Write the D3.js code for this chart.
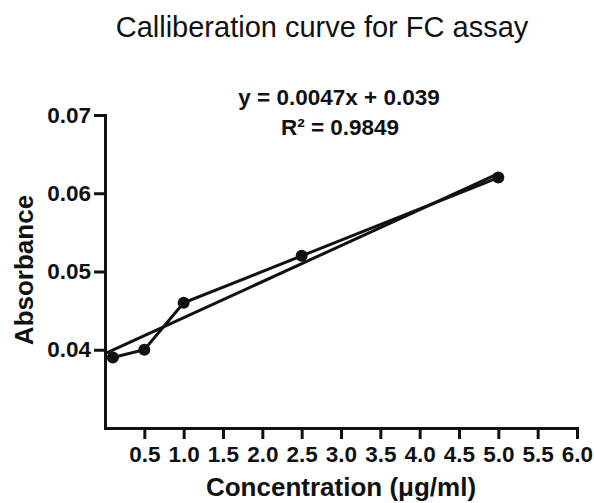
<!DOCTYPE html>
<html>
<head>
<meta charset="utf-8">
<script src="https://cdn.jsdelivr.net/npm/d3@7"></script>
<style>
  body { margin: 0; background: #fff; }
  text { font-family: "Liberation Sans", Arial, sans-serif; fill: #111; }
</style>
</head>
<body>
<div id="chart"></div>
<script>
// data
const concentration = [0.1, 0.5, 1.0, 2.5, 5.0];
const absorbance = [0.039, 0.040, 0.046, 0.052, 0.062];
// trendline end points (as drawn)
const trendX = [0, 5.0];
const trendY = [0.0395, 0.0625];
const xTicks = [0.5, 1.0, 1.5, 2.0, 2.5, 3.0, 3.5, 4.0, 4.5, 5.0, 5.5, 6.0];
const yTicks = [0.04, 0.05, 0.06, 0.07];

const width = 594, height = 503;
const margin = {top: 115, bottom: 75, left: 105, right: 17};

const svg = d3.select("#chart")
  .append("svg")
  .attr("width", width)
  .attr("height", height);

const xScale = d3.scaleLinear()
  .domain([0, 6])
  .range([margin.left, width - margin.right]);

const yScale = d3.scaleLinear()
  .domain([0.03, 0.07])
  .range([height - margin.bottom, margin.top]);

// x axis
const xAxis = svg.append("g")
  .attr("transform", "translate(0," + yScale(0.03) + ")")
  .call(d3.axisBottom(xScale).tickValues(xTicks).tickFormat(d3.format(".1f"))
    .tickSize(11).tickPadding(7).tickSizeOuter(0));

// y axis
const yAxis = svg.append("g")
  .attr("transform", "translate(" + xScale(0) + ",0)")
  .call(d3.axisLeft(yScale).tickValues(yTicks).tickFormat(d3.format(".2f"))
    .tickSize(11).tickPadding(3).tickSizeOuter(0));

[xAxis, yAxis].forEach(ax => {
  ax.select(".domain").attr("stroke", "#111").attr("stroke-width", 3)
    .attr("stroke-linecap", "square");
  ax.selectAll(".tick line").attr("stroke", "#111").attr("stroke-width", 3);
  ax.selectAll(".tick text")
    .attr("fill", "#111")
    .style("font-family", "'Liberation Sans', Arial, sans-serif")
    .style("font-size", "22.5px")
    .style("font-weight", "bold");
});

// trend line
svg.append("path")
  .datum(trendX.map((x, i) => [x, trendY[i]]))
  .attr("fill", "none")
  .attr("stroke", "#111")
  .attr("stroke-width", 3)
  .attr("d", d3.line().x(d => xScale(d[0])).y(d => yScale(d[1])));

// data line
const pts = concentration.map((c, i) => [c, absorbance[i]]);
svg.append("path")
  .datum(pts)
  .attr("fill", "none")
  .attr("stroke", "#111")
  .attr("stroke-width", 3)
  .attr("d", d3.line().x(d => xScale(d[0])).y(d => yScale(d[1])));

svg.selectAll(".dot")
  .data(pts)
  .enter()
  .append("circle")
  .attr("class", "dot")
  .attr("cx", d => xScale(d[0]))
  .attr("cy", d => yScale(d[1]))
  .attr("r", 6)
  .attr("fill", "#111");

// title
svg.append("text")
  .attr("x", 322)
  .attr("y", 37)
  .attr("text-anchor", "middle")
  .style("font-size", "29px")
  .text("Calliberation curve for FC assay");

// equation
svg.append("text")
  .attr("x", 339)
  .attr("y", 105)
  .attr("text-anchor", "middle")
  .style("font-size", "22.5px")
  .style("font-weight", "bold")
  .text("y = 0.0047x + 0.039");

svg.append("text")
  .attr("x", 340)
  .attr("y", 135)
  .attr("text-anchor", "middle")
  .style("font-size", "22.5px")
  .style("font-weight", "bold")
  .text("R² = 0.9849");

// axis titles
svg.append("text")
  .attr("x", 341)
  .attr("y", 496)
  .attr("text-anchor", "middle")
  .style("font-size", "26px")
  .style("font-weight", "bold")
  .text("Concentration (μg/ml)");

svg.append("text")
  .attr("transform", "translate(33,270) rotate(-90)")
  .attr("text-anchor", "middle")
  .style("font-size", "26px")
  .style("font-weight", "bold")
  .text("Absorbance");
</script>
</body>
</html>
